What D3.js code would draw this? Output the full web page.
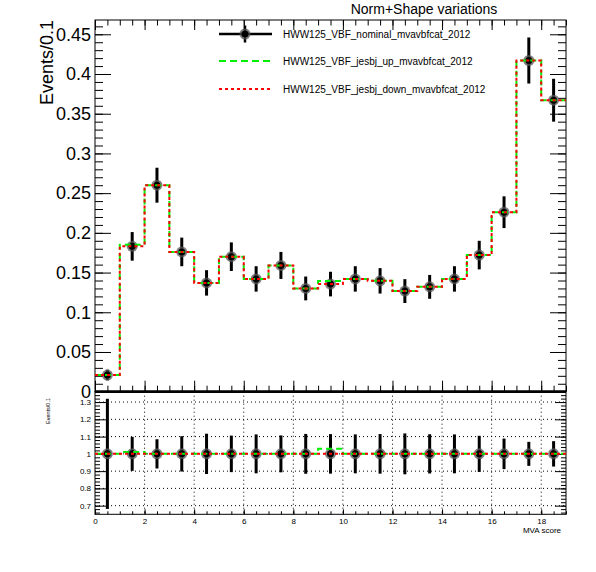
<!DOCTYPE html>
<html>
<head>
<meta charset="utf-8">
<script src="https://cdn.jsdelivr.net/npm/d3@7"></script>
<style>
  body { margin: 0; background: white; }
  svg text { font-family: "Liberation Sans", Arial, Helvetica, sans-serif; fill: black; }
</style>
</head>
<body>
<svg width="596" height="572"></svg>
<script>
// bins of MVA score, width 1, from 0 to 19
const binLow = [0,1,2,3,4,5,6,7,8,9,10,11,12,13,14,15,16,17,18]
const nominal    = [0.021, 0.183, 0.260, 0.176, 0.137, 0.170, 0.142, 0.159, 0.130, 0.1355, 0.142, 0.1396, 0.1267, 0.132, 0.142, 0.172, 0.226, 0.417, 0.367]
const nominalErr = [0.0067, 0.018, 0.022, 0.018, 0.016, 0.018, 0.016, 0.017, 0.015, 0.0155, 0.016, 0.016, 0.015, 0.015, 0.016, 0.018, 0.020, 0.029, 0.027]
const jesUp      = [0.021, 0.185, 0.260, 0.176, 0.137, 0.170, 0.142, 0.159, 0.130, 0.1395, 0.142, 0.1396, 0.1267, 0.132, 0.142, 0.172, 0.226, 0.417, 0.367]
const jesDown    = [0.021, 0.183, 0.260, 0.176, 0.137, 0.170, 0.142, 0.159, 0.130, 0.1355, 0.142, 0.1396, 0.1267, 0.132, 0.142, 0.172, 0.226, 0.417, 0.367]

const legendNames = ['HWW125_VBF_nominal_mvavbfcat_2012', 'HWW125_VBF_jesbj_up_mvavbfcat_2012', 'HWW125_VBF_jesbj_down_mvavbfcat_2012']
const yTicksMain = [0, 0.05, 0.1, 0.15, 0.2, 0.25, 0.3, 0.35, 0.4, 0.45]
const yTicksRatio = [0.7, 0.8, 0.9, 1, 1.1, 1.2, 1.3]
const xTicks = [0, 2, 4, 6, 8, 10, 12, 14, 16, 18]

const svg = d3.select('svg')
svg.append('rect').attr('width', 596).attr('height', 572).attr('fill', 'white')

const left = 95, right = 566
const mainTop = 20, mainBot = 391.7
const ratTop = 391.7, ratBot = 514.3

const x = d3.scaleLinear().domain([0, 19]).range([left, right])
const y = d3.scaleLinear().domain([0, 0.468]).range([mainBot, mainTop])
const yr = d3.scaleLinear().domain([0.65, 1.36]).range([ratBot, ratTop])

const green = '#00ee00', red = '#ff0000'

// step path for histograms
const stepLine = (vals, ys) => {
    let pts = []
    vals.forEach((v, i) => {
        pts.push([x(binLow[i]), ys(v)])
        pts.push([x(binLow[i] + 1), ys(v)])
    })
    return d3.line()(pts)
}

const minor = (a, b, s) => d3.range(Math.round((b - a) / s) + 1).map(i => a + i * s)

const drawAxes = (g, ys, o) => {
    const noLab = () => ''
    g.append('g').attr('transform', `translate(${left},0)`)
        .call(d3.axisLeft(ys).tickValues(minor(o.yMin, o.yMax, o.yMinorStep)).tickSize(-o.yMinorLen).tickFormat(noLab))
    g.append('g').attr('transform', `translate(${left},0)`)
        .call(d3.axisLeft(ys).tickValues(o.yTicks).tickSize(-o.yMajorLen).tickFormat(d => d3.format('~g')(d)))
        .call(a => a.selectAll('text').style('font-size', o.yFont + 'px').attr('x', -o.yPad))
    g.append('g').attr('transform', `translate(${right},0)`)
        .call(d3.axisRight(ys).tickValues(minor(o.yMin, o.yMax, o.yMinorStep)).tickSize(-o.yMinorLen).tickFormat(noLab))
    g.append('g').attr('transform', `translate(${right},0)`)
        .call(d3.axisRight(ys).tickValues(o.yTicks).tickSize(-o.yMajorLen).tickFormat(noLab))
    g.append('g').attr('transform', `translate(0,${o.bottom})`)
        .call(d3.axisBottom(x).tickValues(minor(0, 19, 0.5)).tickSize(-o.xMinorLen).tickFormat(noLab))
    const xb = g.append('g').attr('transform', `translate(0,${o.bottom})`)
        .call(d3.axisBottom(x).tickValues(xTicks).tickSize(-o.xMajorLen).tickFormat(o.xLabels ? d => d : noLab))
    xb.selectAll('text').style('font-size', '8px').attr('y', 4)
    if (o.top !== undefined) {
        g.append('g').attr('transform', `translate(0,${o.top})`)
            .call(d3.axisTop(x).tickValues(minor(0, 19, 0.5)).tickSize(-5.5).tickFormat(noLab))
        g.append('g').attr('transform', `translate(0,${o.top})`)
            .call(d3.axisTop(x).tickValues(xTicks).tickSize(-10).tickFormat(noLab))
    }
    g.selectAll('.domain').remove()
    g.selectAll('.tick line').attr('stroke', 'black').attr('stroke-width', 1)
    g.append('rect').attr('x', left).attr('y', o.top !== undefined ? o.top : o.topFrame)
        .attr('width', right - left).attr('height', o.bottom - (o.top !== undefined ? o.top : o.topFrame))
        .attr('fill', 'none').attr('stroke', 'black').attr('stroke-width', 1)
}

// ---------- main panel ----------
const main = svg.append('g')
drawAxes(main, y, {
    yMin: 0, yMax: 0.46, yMinorStep: 0.01, yTicks: yTicksMain,
    yMajorLen: 16, yMinorLen: 8, yFont: 18, yPad: 4,
    xMajorLen: 11, xMinorLen: 6, bottom: mainBot, top: mainTop, xLabels: false
})
main.append('line').attr('x1', left).attr('x2', right).attr('y1', mainBot).attr('y2', mainBot)
    .attr('stroke', 'black').attr('stroke-width', 2.5)

const drawPoints = (g, vals, errs, ys) => {
    const pg = g.append('g')
    pg.selectAll('line.err').data(vals).enter().append('line')
        .attr('x1', (d, i) => x(binLow[i] + 0.5)).attr('x2', (d, i) => x(binLow[i] + 0.5))
        .attr('y1', (d, i) => ys(d - errs[i])).attr('y2', (d, i) => ys(d + errs[i]))
        .attr('stroke', 'black').attr('stroke-width', 3)
    pg.selectAll('circle.halo').data(vals).enter().append('circle')
        .attr('cx', (d, i) => x(binLow[i] + 0.5)).attr('cy', d => ys(d))
        .attr('r', 5.5).attr('fill', '#555').attr('opacity', 0.75)
    pg.selectAll('circle.core').data(vals).enter().append('circle')
        .attr('cx', (d, i) => x(binLow[i] + 0.5)).attr('cy', d => ys(d))
        .attr('r', 3.5).attr('fill', 'black')
}

drawPoints(main, nominal, nominalErr, y)
main.append('path').attr('d', stepLine(jesUp, y)).attr('fill', 'none')
    .attr('stroke', green).attr('stroke-width', 2).attr('stroke-dasharray', '6,4')
main.append('path').attr('d', stepLine(jesDown, y)).attr('fill', 'none')
    .attr('stroke', red).attr('stroke-width', 2).attr('stroke-dasharray', '3,3')

main.append('text').attr('transform', 'translate(53,20) rotate(-90)')
    .attr('text-anchor', 'end').style('font-size', '18px').text('Events/0.1')

svg.append('text').attr('x', 424).attr('y', 14).attr('text-anchor', 'middle')
    .style('font-size', '14px').text('Norm+Shape variations')

// legend
const legY = [34, 61, 89]
const leg = svg.append('g')
leg.append('line').attr('x1', 219).attr('x2', 272).attr('y1', legY[0]).attr('y2', legY[0])
    .attr('stroke', 'black').attr('stroke-width', 2.5)
leg.append('line').attr('x1', 245).attr('x2', 245).attr('y1', legY[0] - 8.5).attr('y2', legY[0] + 8.5)
    .attr('stroke', 'black').attr('stroke-width', 2.5)
leg.append('circle').attr('cx', 245).attr('cy', legY[0]).attr('r', 5.5).attr('fill', '#555').attr('opacity', 0.75)
leg.append('circle').attr('cx', 245).attr('cy', legY[0]).attr('r', 3.5).attr('fill', 'black')
leg.append('line').attr('x1', 219).attr('x2', 272).attr('y1', legY[1]).attr('y2', legY[1])
    .attr('stroke', green).attr('stroke-width', 2).attr('stroke-dasharray', '7,4')
leg.append('line').attr('x1', 219).attr('x2', 272).attr('y1', legY[2]).attr('y2', legY[2])
    .attr('stroke', red).attr('stroke-width', 2).attr('stroke-dasharray', '3,3')
leg.selectAll('text').data(legendNames).enter().append('text')
    .attr('x', 283).attr('y', (d, i) => legY[i] + 3.5)
    .style('font-size', '10px').text(d => d)

// ---------- ratio panel ----------
const rat = svg.append('g')
const grid = rat.append('g')
grid.selectAll('line.h').data(yTicksRatio).enter().append('line')
    .attr('x1', left).attr('x2', right).attr('y1', d => yr(d)).attr('y2', d => yr(d))
    .attr('stroke', 'black').attr('stroke-width', 1).attr('stroke-dasharray', '1,3')
grid.selectAll('line.v').data(xTicks.filter(d => d > 0)).enter().append('line')
    .attr('x1', d => x(d)).attr('x2', d => x(d)).attr('y1', ratTop).attr('y2', ratBot)
    .attr('stroke', 'black').attr('stroke-width', 1).attr('stroke-dasharray', '1,3')

drawAxes(rat, yr, {
    yMin: 0.66, yMax: 1.36, yMinorStep: 0.02, yTicks: yTicksRatio,
    yMajorLen: 11, yMinorLen: 5, yFont: 8, yPad: 4,
    xMajorLen: 5, xMinorLen: 3, bottom: ratBot, topFrame: ratTop, xLabels: true
})

const ratioNom = nominal.map(() => 1)
const ratioErr = nominal.map((v, i) => nominalErr[i] / v)
drawPoints(rat, ratioNom, ratioErr, yr)
rat.append('path').attr('d', stepLine(jesUp.map((v, i) => v / nominal[i]), yr)).attr('fill', 'none')
    .attr('stroke', green).attr('stroke-width', 2).attr('stroke-dasharray', '6,4')
rat.append('path').attr('d', stepLine(jesDown.map((v, i) => v / nominal[i]), yr)).attr('fill', 'none')
    .attr('stroke', red).attr('stroke-width', 2).attr('stroke-dasharray', '3,3')

svg.append('line').attr('x1', left).attr('x2', right).attr('y1', ratTop).attr('y2', ratTop)
    .attr('stroke', 'black').attr('stroke-width', 2.5)

rat.append('text').attr('transform', 'translate(50,398) rotate(-90)')
    .attr('text-anchor', 'end').style('font-size', '5.5px').text('Events/0.1')
rat.append('text').attr('x', 561).attr('y', 533).attr('text-anchor', 'end')
    .style('font-size', '8px').text('MVA score')
</script>
</body>
</html>
